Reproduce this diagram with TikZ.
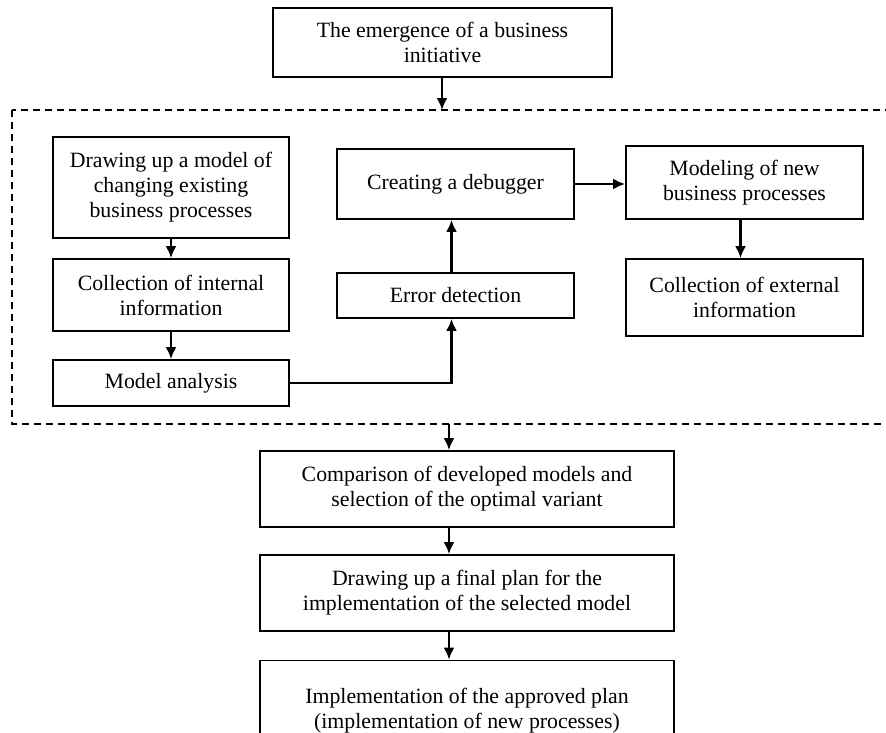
\documentclass[tikz,border=0pt]{standalone}
\usepackage{fontspec}
\setmainfont{Liberation Serif}
\usetikzlibrary{arrows.meta, positioning}

\begin{document}
\begin{tikzpicture}[x=1pt, y=1pt,
    box/.style={draw, line width=1.8pt, align=center, inner sep=0pt,
        font=\fontsize{21.8}{25}\selectfont},
    arr/.style={line width=2.2pt, -{Latex[length=12pt, width=11pt]}}]
    \useasboundingbox (0,0) rectangle (886,-732);
    \clip (0,0) rectangle (886,-732);

    % Initiative
    \node[box, minimum width=339, minimum height=69] (init) at (442.5,-42.5)
        {The emergence of a business\\initiative};

    % Dashed frame (right side runs off the page)
    \draw[line width=1.4pt, dash pattern=on 7pt off 5pt]
        (12,-110) rectangle (900,-424);
    \coordinate (frametop) at (442,-110);
    \coordinate (framebot) at (449,-424);

    % Left column
    \node[box, minimum width=236, minimum height=101] (model) at (171,-187.5)
        {Drawing up a model of\\changing existing\\business processes};
    \node[box, minimum width=236, minimum height=72] (intinfo) at (171,-295)
        {Collection of internal\\information};
    \node[box, minimum width=236, minimum height=46] (analysis) at (171,-383)
        {Model analysis};

    % Middle column
    \node[box, minimum width=237, minimum height=70] (debug) at (455.5,-184)
        {Creating a debugger};
    \node[box, minimum width=237, minimum height=45] (errdet) at (455.5,-295.5)
        {Error detection};

    % Right column
    \node[box, minimum width=237, minimum height=73] (newmod) at (744.5,-182.5)
        {Modeling of new\\business processes};
    \node[box, minimum width=237, minimum height=77] (extinfo) at (744.5,-297.5)
        {Collection of external\\information};

    % Lower part
    \node[box, minimum width=414, minimum height=76] (compare) at (467,-489)
        {Comparison of developed models and\\selection of the optimal variant};
    \node[box, minimum width=414, minimum height=76] (final) at (467,-593)
        {Drawing up a final plan for the\\implementation of the selected model};
    \node[box, minimum width=414, minimum height=101] (implement) at (467,-711)
        {Implementation of the approved plan\\(implementation of new processes)};

    % Connectors
    \draw[arr] (init.south -| frametop) -- (frametop);
    \draw[arr] (model) -- (intinfo);
    \draw[arr] (intinfo) -- (analysis);
    \draw[arr] (analysis.east) -| ([xshift=-4pt]errdet.south);
    \draw[arr] ([xshift=-4pt]errdet.north) -- ([xshift=-4pt]debug.south);
    \draw[arr] (debug.east) -- (debug.east -| newmod.west);
    \draw[arr] ([xshift=-4pt]newmod.south) -- ([xshift=-4pt]extinfo.north);
    \draw[arr] (framebot) -- (framebot |- compare.north);
    \draw[arr] (compare.south -| framebot) -- (final.north -| framebot);
    \draw[arr] (final.south -| framebot) -- (implement.north -| framebot);
\end{tikzpicture}
\end{document}
